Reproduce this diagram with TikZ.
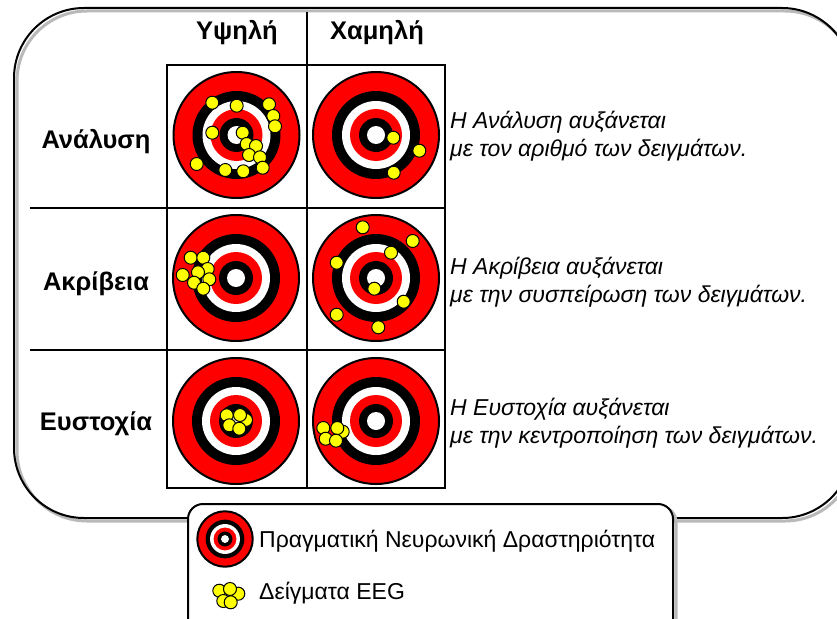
\documentclass[tikz,border=0pt]{standalone}
\usepackage{fontspec}
\setmainfont{Liberation Sans}
\usepackage{tikz}
\usetikzlibrary{positioning}
\definecolor{tgtred}{RGB}{255,0,0}
\definecolor{hityellow}{RGB}{255,255,0}
\definecolor{rimgray}{RGB}{185,185,185}

\begin{document}
\begin{tikzpicture}[
  x=1pt, y=-1pt,
  frame/.style={line width=2pt, rounded corners=70pt},
  legframe/.style={line width=2pt, rounded corners=15pt},
  grid/.style={line width=2.5pt, black},
  head/.style={font=\fontsize{25.5}{30}\selectfont\bfseries, inner sep=0pt},
  rowlab/.style={head},
  desc/.style={font=\fontsize{23}{27.5}\selectfont\itshape, align=left, anchor=west, inner sep=0pt},
  leg/.style={font=\fontsize{23}{27}\selectfont, anchor=west, inner sep=0pt},
  hit/.style={draw, fill=hityellow, line width=1pt},
  target/.pic={
    \draw[fill=tgtred, line width=2pt] (0,0) circle (63pt);
    \fill[black] (0,0) circle (44pt);
    \fill[white] (0,0) circle (34pt);
    \fill[tgtred] (0,0) circle (26pt);
    \fill[black] (0,0) circle (17pt);
    \fill[white] (0,0) circle (9pt);
  }
]
\useasboundingbox (0,0) rectangle (837,618);
\clip (0,0) rectangle (837,618);
\fill[white] (0,0) rectangle (837,618);

\draw[frame, rimgray, line width=3pt] (17,11) rectangle (855,521);
\draw[frame] (14,8) rectangle (852,518);

\draw[grid] (307,12) -- (307,488);
\draw[grid] (167,65) rectangle (445,488);
\draw[grid] (30,208) -- (445,208);
\draw[grid] (30,350) -- (445,350);

\node[head] (high) at (237,33) {Υψηλή};
\node[head] (low) at (377,33) {Χαμηλή};

\node[rowlab] (res) at (96,142) {Ανάλυση};
\node[rowlab] (prec) at (96,284) {Ακρίβεια};
\node[rowlab] (acc) at (96,424) {Ευστοχία};

\coordinate (t11) at (236.5,135);
\coordinate (t12) at (376,135);
\coordinate (t21) at (236,278);
\coordinate (t22) at (376,278);
\coordinate (t31) at (236,421);
\coordinate (t32) at (376,421);
\foreach \t in {t11,t12,t21,t22,t31,t32}
  \pic at (\t) {target};

\foreach \x/\y in {212.3/102.7, 236.7/105.7, 269/104.3, 273.3/116, 275/126.3, 212.3/132.7,
  242.7/132.7, 246.7/144, 256/146, 249/155, 260/157.3, 196.7/164, 225.3/170, 243.3/171.3, 262.7/167.7}
  \draw[hit] (\x,\y) circle (6.5pt);
\foreach \x/\y in {393.3/137.7, 419.3/150.7, 393.7/172.7}
  \draw[hit] (\x,\y) circle (6.5pt);
\foreach \x/\y in {190.7/257.7, 203.3/257.7, 207.7/269, 182.7/275, 198/272.3, 209.3/279.3, 194/282.7, 203.3/288.7}
  \draw[hit] (\x,\y) circle (6.5pt);
\foreach \x/\y in {362.7/227.3, 412.7/241, 391/252.7, 336.7/262.7, 374.3/288.7, 403.7/301.7, 336.7/314.7, 378.3/327.3}
  \draw[hit] (\x,\y) circle (6.5pt);
\foreach \x/\y in {246/420, 226.7/415.3, 240/415, 229.3/425.3, 239.3/428.7}
  \draw[hit] (\x,\y) circle (6.5pt);
\foreach \x/\y in {342.7/431.7, 337.3/428, 323.3/428, 325.7/438.7, 336/440.7}
  \draw[hit] (\x,\y) circle (6.5pt);

\node[desc] (dres) at (450,136) {Η Ανάλυση αυξάνεται\\με τον αριθμό των δειγμάτων.};
\node[desc] (dprec) at (450,282) {Η Ακρίβεια αυξάνεται\\με την συσπείρωση των δειγμάτων.};
\node[desc] (dacc) at (450,423) {Η Ευστοχία αυξάνεται\\με την κεντροποίηση των δειγμάτων.};

\draw[legframe, rimgray, line width=3pt] (191,507) rectangle (676,650);
\draw[legframe, fill=white] (188,504) rectangle (673,648);
\coordinate (lt) at (225,539);
\pic[scale=0.44] at (lt) {target};
\foreach \x/\y in {238.3/593.7, 219.3/590.7, 230/589, 223.3/601, 230.7/602.3}
  \draw[hit] (\x,\y) circle (6.5pt);
\node[leg] (real) at (259,541) {Πραγματική Νευρωνική Δραστηριότητα};
\node[leg] (eeg) at (259,593) {Δείγματα EEG};
\end{tikzpicture}
\end{document}
